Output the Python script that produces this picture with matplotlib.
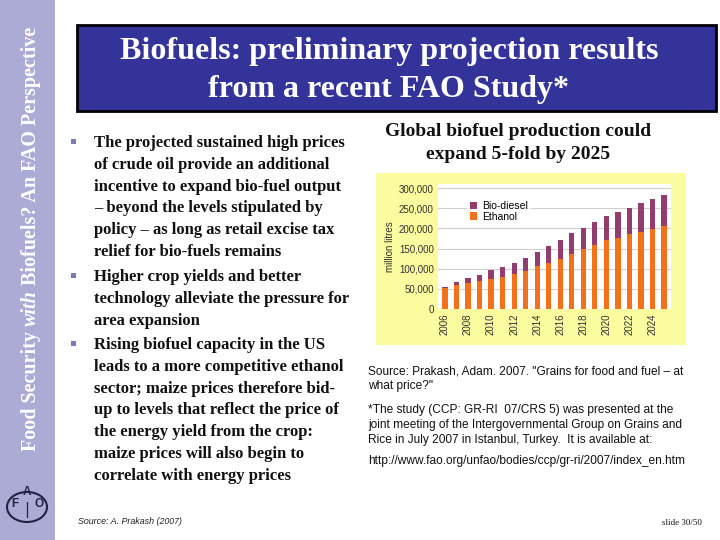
import matplotlib
matplotlib.use("Agg")
import matplotlib.pyplot as plt
from matplotlib.patches import Rectangle, Circle
import numpy as np

W, H = 720, 540
years = list(range(2006, 2026))
ethanol = [51, 59, 64, 69, 75, 80, 86, 95, 106, 114, 124, 137, 148, 159, 170, 177, 185, 192, 199, 205]
total = [54, 67, 76, 85, 96, 104, 114, 127, 142, 157, 172, 188, 202, 216, 230, 241, 251, 262, 272, 283]
biodiesel = [t - e for t, e in zip(total, ethanol)]
ethanol = [v * 1000 for v in ethanol]
biodiesel = [v * 1000 for v in biodiesel]
xtick_years = list(range(2006, 2026, 2))
ytick_vals = [0, 50000, 100000, 150000, 200000, 250000, 300000]

title_lines = ["Biofuels: preliminary projection results", "from a recent FAO Study*"]
bullets = [
    ["The projected sustained high prices", "of crude oil provide an additional",
     "incentive to expand bio-fuel output", "\u2013 beyond the levels stipulated by",
     "policy \u2013 as long as retail excise tax", "relief for bio-fuels remains"],
    ["Higher crop yields and better", "technology alleviate the pressure for", "area expansion"],
    ["Rising biofuel capacity in the US", "leads to a more competitive ethanol",
     "sector; maize prices therefore bid-", "up to levels that reflect the price of",
     "the energy yield from the crop:", "maize prices will also begin to",
     "correlate with energy prices"],
]
chart_title = ["Global biofuel production could", "expand 5-fold by 2025"]
right_notes = [
    (371, "Source: Prakash, Adam. 2007. \"Grains for food and fuel \u2013 at"),
    (386, "what price?\""),
    (410, "*The study (CCP: GR-RI  07/CRS 5) was presented at the"),
    (425, "joint meeting of the Intergovernmental Group on Grains and"),
    (440, "Rice in July 2007 in Istanbul, Turkey.  It is available at:"),
    (461, "http://www.fao.org/unfao/bodies/ccp/gr-ri/2007/index_en.htm"),
]

fig = plt.figure(figsize=(7.2, 5.4), dpi=100)
fig.patch.set_facecolor("white")

def fx(x):
    return x / W

def fy(y):
    return 1 - y / H

def rect(x0, y0, x1, y1, z=1, **kw):
    r = Rectangle((fx(x0), fy(y1)), fx(x1) - fx(x0), fy(y0) - fy(y1),
                  transform=fig.transFigure, zorder=z, **kw)
    fig.add_artist(r)
    return r

# sidebar
rect(0, 0, 55, 540, facecolor="#ababd6", edgecolor="none")
serif = "Liberation Serif"
sans = "Liberation Sans"

# vertical sidebar text, built from pieces
pieces = [("Food Security ", "normal"), ("with", "italic"), (" Biofuels? An FAO Perspective", "normal")]
fig.canvas.draw()
renderer = fig.canvas.get_renderer()
ycur = fy(451)
for txt, style in pieces:
    t = fig.text(fx(31), ycur, txt, rotation=90, rotation_mode="anchor",
                 ha="left", va="center", color="white", fontsize=14.5,
                 fontweight="bold", fontstyle=style, family=serif)
    bb = t.get_window_extent(renderer)
    ycur = ycur + bb.height / (H)

# FAO logo approximation
logo = Circle((fx(27), fy(507)), 20 / W, transform=fig.transFigure,
              facecolor="none", edgecolor="#222244", lw=1.5)
fig.add_artist(logo)
for ch, (lx, ly) in zip("FAO", [(15, 504), (27, 492), (39, 504)]):
    fig.text(fx(lx), fy(ly), ch, ha="center", va="center", fontsize=8.5,
             fontweight="bold", color="#222244", family=sans)
fig.text(fx(27), fy(510), "|", ha="center", va="center", fontsize=11, color="#222244")

# title box
rect(77, 25, 716, 111, facecolor="#333399", edgecolor="black", lw=2)
for i, line in enumerate(title_lines):
    fig.text(fx(389), fy(52 + i * 38), line, ha="center", va="center",
             color="white", fontsize=23, fontweight="bold", family=serif)

# bullets
starts = [143, 277, 345]
for b, y0 in zip(bullets, starts):
    rect(71, y0 - 4, 76, y0 + 1, facecolor="#7a7ab8", edgecolor="none")
    for j, line in enumerate(b):
        fig.text(fx(94), fy(y0 + j * 21.8), line, ha="left", va="center",
                 fontsize=12.0, fontweight="bold", color="#111111", family=serif)

fig.text(fx(78), fy(522), "Source: A. Prakash (2007)", ha="left", va="center",
         fontsize=6.4, fontstyle="italic", family=sans, color="#222222")

# chart title
for i, line in enumerate(chart_title):
    fig.text(fx(518), fy(131 + i * 24), line, ha="center", va="center",
             fontsize=14, fontweight="bold", family=serif, color="#111111")

# chart background
rect(376, 173, 686, 345, facecolor="#fbfb9f", edgecolor="none")

ax = fig.add_axes([fx(438), fy(309), fx(671) - fx(438), fy(184) - fy(309)])
ax.set_zorder(5)
ax.set_facecolor("white")
xs = np.arange(len(years))
ax.bar(xs, ethanol, width=0.45, color="#f4711c", label="Ethanol", zorder=2)
ax.bar(xs, biodiesel, bottom=ethanol, width=0.45, color="#933c70", label="Bio-diesel", zorder=2)
ax.set_xlim(-0.6, len(years) - 0.4)
ax.set_ylim(0, 310000)
ax.set_yticks(ytick_vals)
ax.set_yticklabels([f"{v:,}" for v in ytick_vals], fontsize=7, family=sans, color="#333333")
ax.set_xticks([years.index(y) for y in xtick_years])
ax.set_xticklabels([str(y) for y in xtick_years], rotation=90, fontsize=7,
                   family=sans, color="#333333")
ax.grid(axis="y", color="#d0d0d0", lw=0.8, zorder=0)
ax.set_axisbelow(True)
for s in ax.spines.values():
    s.set_visible(False)
ax.tick_params(length=0, pad=3)
ax.set_ylabel("million litres", fontsize=7, family=sans, color="#333333", labelpad=3)
h, l = ax.get_legend_handles_labels()
leg = ax.legend(h[::-1], l[::-1], loc="upper left", bbox_to_anchor=(0.10, 0.93),
                frameon=True, prop={"family": sans, "size": 7.5},
                handlelength=0.7, handleheight=0.7, handletextpad=0.5,
                labelspacing=0.05, borderpad=0.3)
leg.get_frame().set_facecolor("white")
leg.get_frame().set_edgecolor("none")

# right notes
for y, txt in right_notes:
    fig.text(fx(368), fy(y), txt, ha="left", va="center", fontsize=8.6,
             family=sans, color="#111111")

fig.text(fx(702), fy(523), "slide 30/50", ha="right", va="center", fontsize=6.5,
         family=serif, color="#111111")

fig.savefig("out.png", dpi=100)
